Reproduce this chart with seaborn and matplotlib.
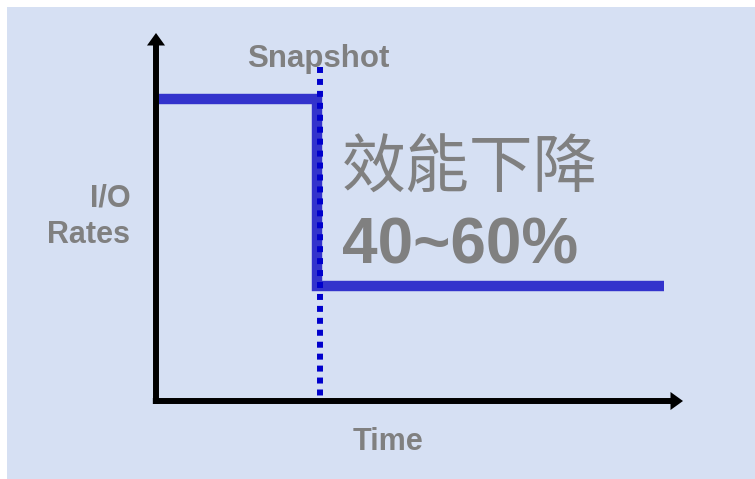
import pandas as pd
import seaborn as sns
import matplotlib.pyplot as plt
from matplotlib.patches import Rectangle

# step curve (arbitrary units, 0-100 on both axes)
time = [0.5, 30.5, 30.5, 96.4]
io_rate = [82.2, 82.2, 31.3, 31.3]
snapshot_time = 31.2
snapshot_top = 90.8

label_y = "I/O\nRates"
label_x = "Time"
label_snap = "Snapshot"
label_drop = "效能下降"
label_pct = "40~60%"

sns.set_style("white")
plt.rcParams['font.family'] = ['Liberation Sans', 'Noto Sans CJK TC', 'DejaVu Sans']

gris = "#808080"
fondo = "#D6E0F3"

fig = plt.figure(figsize=(7.55, 4.79), dpi=100, facecolor="white")
fig.patches.append(Rectangle((7 / 755, 0), 1, (479 - 7) / 479, transform=fig.transFigure,
                             facecolor=fondo, edgecolor="none", zorder=-10))

ax = fig.add_axes([156 / 755, (479 - 401) / 479, (683 - 156) / 755, (401 - 33) / 479])
ax.set_xlim(0, 100)
ax.set_ylim(0, 100)
ax.set_axis_off()

tabla = pd.DataFrame({"Time": time, "Rate": io_rate})
sns.lineplot(data=tabla, x="Time", y="Rate", sort=False, estimator=None, ax=ax,
             color="#3333CC", linewidth=7.5, solid_joinstyle="miter", solid_capstyle="butt",
             zorder=2)

# snapshot dotted line
ax.plot([snapshot_time, snapshot_time], [snapshot_top, 0], color="#0000CC",
        linewidth=4.3, linestyle=(0, (1, 1)), dash_capstyle="butt", zorder=3)

# axes arrows
flecha = dict(facecolor="black", edgecolor="none", width=4.3, headwidth=13,
              headlength=9, shrink=0)
ax.annotate("", xy=(1, 0), xytext=(-0.006, 0), xycoords="axes fraction",
            textcoords="axes fraction", arrowprops=flecha, zorder=4)
ax.annotate("", xy=(0, 1), xytext=(0, -0.008), xycoords="axes fraction",
            textcoords="axes fraction", arrowprops=flecha, zorder=4)

ax.text(30.8, 90.8, label_snap, ha="center", va="baseline", fontsize=22.5,
        fontweight="bold", color=gris, clip_on=False)
ax.text(44.0, -13.3, label_x, ha="center", va="baseline", fontsize=22,
        fontweight="bold", color=gris, clip_on=False)
ax.text(-4.9, 43.0, label_y, ha="right", va="baseline", fontsize=22, linespacing=1.27,
        fontweight="bold", color=gris, multialignment="right", clip_on=False)
ax.text(35.3, 62.9, label_drop, ha="left", va="center", fontsize=46,
        family=["Noto Sans CJK TC", "DejaVu Sans"], color=gris, clip_on=False)
ax.text(35.3, 37.5, label_pct, ha="left", va="baseline", fontsize=46,
        fontweight="bold", color=gris, clip_on=False)

plt.savefig("out.png", dpi=100, facecolor=fig.get_facecolor())
